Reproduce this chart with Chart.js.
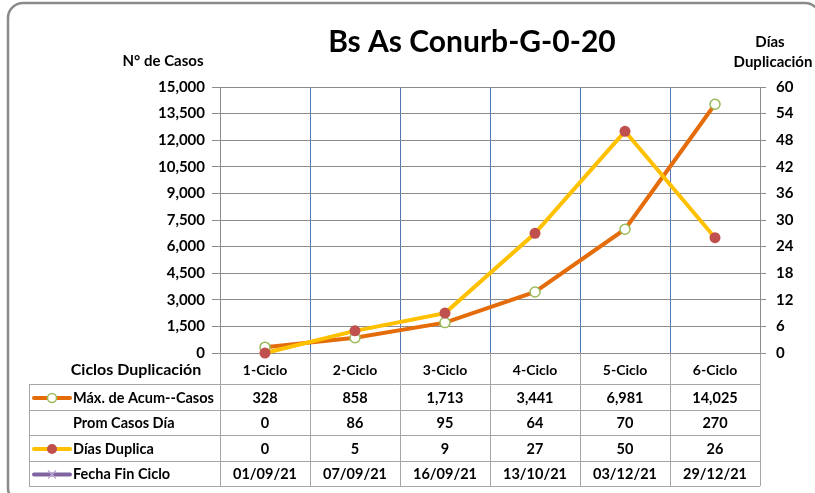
<!DOCTYPE html>
<html>
<head>
<meta charset="utf-8">
<script src="https://cdn.jsdelivr.net/npm/chart.js@4.4.0/dist/chart.umd.min.js"></script>
<style>
  html, body { margin: 0; padding: 0; background: #fff; }
</style>
</head>
<body>
<canvas id="chart" width="815" height="493"></canvas>
<script>
// datos del gráfico
const ciclos = ['1-Ciclo', '2-Ciclo', '3-Ciclo', '4-Ciclo', '5-Ciclo', '6-Ciclo'];
const maxAcumCasos = [328, 858, 1713, 3441, 6981, 14025];
const promCasosDia = [0, 86, 95, 64, 70, 270];
const diasDuplica = [0, 5, 9, 27, 50, 26];
const fechaFinCiclo = ['01/09/21', '07/09/21', '16/09/21', '13/10/21', '03/12/21', '29/12/21'];
const casosMax = 15000, casosStep = 1500;
const diasMax = 60, diasStep = 6;

const FONT = 'Lato, "Open Sans", sans-serif';
const fmt = v => Number(v).toLocaleString('en-US');

const COL_CASOS = '#E46C0A';
const COL_DIAS = '#FFC000';
const COL_FECHA = '#8064A2';

function line(ctx, x1, y1, x2, y2) {
    ctx.beginPath();
    ctx.moveTo(x1, y1);
    ctx.lineTo(x2, y2);
    ctx.stroke();
}

function drawKey(ctx, y, color, marker) {
    ctx.strokeStyle = color;
    ctx.lineWidth = 4;
    ctx.lineCap = 'round';
    line(ctx, 34, y, 70, y);
    ctx.lineCap = 'butt';
    if (marker === 'open') {
        ctx.beginPath();
        ctx.arc(52, y, 4.5, 0, Math.PI * 2);
        ctx.fillStyle = '#fff';
        ctx.fill();
        ctx.strokeStyle = '#9BBB59';
        ctx.lineWidth = 1.5;
        ctx.stroke();
    } else if (marker === 'dot') {
        ctx.beginPath();
        ctx.arc(52, y, 5, 0, Math.PI * 2);
        ctx.fillStyle = '#C0504D';
        ctx.fill();
    } else if (marker === 'cross') {
        ctx.strokeStyle = '#b9a7d4';
        ctx.lineWidth = 1.2;
        line(ctx, 48, y - 4, 56, y + 4);
        line(ctx, 48, y + 4, 56, y - 4);
    }
}

const extras = {
    id: 'extras',
    afterDraw(chart) {
        const ctx = chart.ctx;
        const area = chart.chartArea;
        const x = chart.scales.x;
        ctx.save();

        // marco (se sale por la derecha y por abajo)
        ctx.strokeStyle = '#8a8a8a';
        ctx.lineWidth = 2.5;
        ctx.beginPath();
        ctx.roundRect(8, 3, 812, 500, 15);
        ctx.stroke();

        // títulos
        ctx.fillStyle = '#000';
        ctx.textAlign = 'center';
        ctx.textBaseline = 'middle';
        ctx.font = 'bold 30px ' + FONT;
        ctx.fillText('Bs As Conurb-G-0-20', 472, 42);
        ctx.font = 'bold 15px ' + FONT;
        ctx.fillText('N° de Casos', 163, 61);
        ctx.fillText('Días', 770, 42);
        ctx.fillText('Duplicación', 773, 62);

        // tabla de datos
        const half = (x.getPixelForValue(1) - x.getPixelForValue(0)) / 2;
        const rowLines = [384, 410, 435, 461, 486];
        ctx.strokeStyle = '#a6a6a6';
        ctx.lineWidth = 1;
        rowLines.forEach(y => line(ctx, 29, y + 0.5, area.right, y + 0.5));
        line(ctx, 29.5, rowLines[0], 29.5, rowLines[4]);
        for (let i = 0; i <= ciclos.length; i++) {
            const bx = Math.round(x.getPixelForValue(i) - half) + 0.5;
            line(ctx, bx, area.bottom, bx, rowLines[4]);
        }

        ctx.fillStyle = '#000';
        ctx.font = 'bold 16px ' + FONT;
        ctx.fillText('Ciclos Duplicación', 136, 370);

        const rows = [
            { label: 'Máx. de Acum--Casos', values: maxAcumCasos.map(fmt), color: COL_CASOS, marker: 'open' },
            { label: 'Prom Casos Día', values: promCasosDia.map(fmt) },
            { label: 'Días Duplica', values: diasDuplica.map(fmt), color: COL_DIAS, marker: 'dot' },
            { label: 'Fecha Fin Ciclo', values: fechaFinCiclo, color: COL_FECHA, marker: 'cross' }
        ];
        rows.forEach((row, r) => {
            const cy = (rowLines[r] + rowLines[r + 1]) / 2 + 1;
            if (row.color) drawKey(ctx, cy, row.color, row.marker);
            ctx.fillStyle = '#000';
            ctx.font = 'bold 14.5px ' + FONT;
            ctx.textAlign = 'left';
            ctx.fillText(row.label, 73, cy);
            ctx.textAlign = 'center';
            row.values.forEach((v, i) => ctx.fillText(v, x.getPixelForValue(i), cy));
        });
        ctx.restore();
    }
};

new Chart(document.getElementById('chart'), {
    type: 'line',
    data: {
        labels: ciclos,
        datasets: [
            {
                label: 'Días Duplica',
                data: diasDuplica,
                yAxisID: 'y1',
                borderColor: COL_DIAS,
                borderWidth: 4,
                pointRadius: 5.5,
                pointBackgroundColor: '#C0504D',
                pointBorderColor: '#C0504D',
                pointBorderWidth: 0,
                tension: 0,
                clip: false,
                order: 0
            },
            {
                label: 'Máx. de Acum--Casos',
                data: maxAcumCasos,
                yAxisID: 'y',
                borderColor: COL_CASOS,
                borderWidth: 4,
                pointRadius: 5,
                pointBackgroundColor: '#fff',
                pointBorderColor: '#9BBB59',
                pointBorderWidth: 1.5,
                tension: 0,
                clip: false,
                order: 1
            }
        ]
    },
    options: {
        responsive: false,
        animation: false,
        layout: { padding: { top: 87, left: 0, right: 0, bottom: 0 } },
        plugins: {
            legend: { display: false },
            tooltip: { enabled: false }
        },
        scales: {
            x: {
                offset: true,
                afterFit: s => { s.height = 140; },
                grid: { offset: true, color: '#4f78b4', lineWidth: 1, drawTicks: false },
                border: { color: '#8c8c8c' },
                ticks: {
                    color: '#000',
                    padding: 9,
                    font: { family: FONT, size: 14, weight: 'bold' }
                }
            },
            y: {
                position: 'left',
                min: 0,
                max: casosMax,
                afterFit: s => { s.width = 220; },
                grid: { color: '#8c8c8c', tickLength: 8 },
                border: { color: '#8c8c8c' },
                ticks: {
                    stepSize: casosStep,
                    color: '#000',
                    padding: 7,
                    callback: v => fmt(v),
                    font: { family: FONT, size: 15, weight: 'bold' }
                }
            },
            y1: {
                position: 'right',
                min: 0,
                max: diasMax,
                afterFit: s => { s.width = 55; },
                grid: { drawOnChartArea: false, color: '#8c8c8c', tickLength: 6 },
                border: { color: '#8c8c8c' },
                ticks: {
                    stepSize: diasStep,
                    color: '#000',
                    padding: 10,
                    font: { family: FONT, size: 15, weight: 'bold' }
                }
            }
        }
    },
    plugins: [extras]
});
</script>
</body>
</html>
